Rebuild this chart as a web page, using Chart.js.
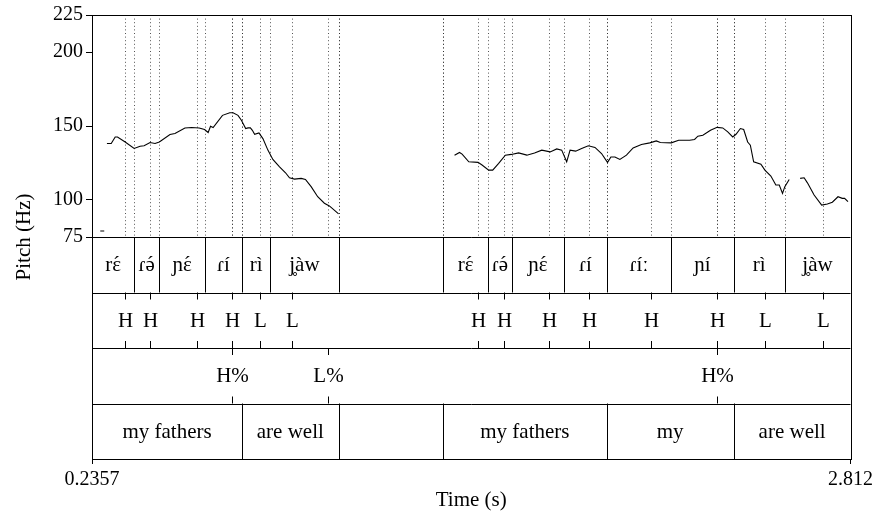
<!DOCTYPE html>
<html>
<head>
<meta charset="utf-8">
<title>Pitch track with tiers</title>
<script src="https://cdn.jsdelivr.net/npm/chart.js@4.4.1/dist/chart.umd.min.js"></script>
<style>
  html, body { margin: 0; padding: 0; background: #fff; }
  #pitchChart { display: block; }
</style>
</head>
<body>
<canvas id="pitchChart" width="877" height="516"></canvas>
<script>
// Time range of the excerpt (s)
const timeMin = 0.2357;
const timeMax = 2.812;
const timeTickLabels = ['0.2357', '2.812'];

// Pitch axis ticks (Hz)
const pitchTicks = [75, 100, 150, 200, 225];

// F0 track: null marks an unvoiced gap
const pitchTimes = [
    0.2638, 0.2773, 0.2800,
    0.2864, 0.3010, 0.3145, 0.3223, 0.3484, 0.3788, 0.3991, 0.4126, 0.4329, 0.4498,
    0.4644, 0.5006, 0.5175, 0.5513, 0.5740, 0.5997, 0.6180, 0.6302, 0.6383, 0.6471,
    0.6789, 0.7036, 0.7147, 0.7316, 0.7431, 0.7577, 0.7655, 0.7736, 0.7804, 0.7881,
    0.8027, 0.8162, 0.8331, 0.8500, 0.8727, 0.8930, 0.9065, 0.9235, 0.9461, 0.9607,
    0.9800, 1.0023, 1.0250, 1.0419, 1.0733, 1.2000,
    1.4671, 1.4840, 1.4928, 1.5155, 1.5469, 1.5605, 1.5831, 1.5967, 1.6170, 1.6396,
    1.6599, 1.6846, 1.7127, 1.7388, 1.7634, 1.7919, 1.8142, 1.8311, 1.8480, 1.8595,
    1.8785, 1.8988, 1.9214, 1.9441, 1.9664, 1.9867, 1.9982, 2.0118, 2.0287, 2.0510,
    2.0737, 2.1018, 2.1302, 2.1525, 2.1660, 2.2032, 2.2283, 2.2655, 2.2824, 2.2936,
    2.3105, 2.3365, 2.3589, 2.3781, 2.3951, 2.4120, 2.4231, 2.4380, 2.4492, 2.4627,
    2.4718, 2.4830, 2.5077, 2.5212, 2.5415, 2.5584, 2.5700, 2.5811, 2.5889, 2.6038,
    2.6200,
    2.6410, 2.6545, 2.6657, 2.6884, 2.7141, 2.7334, 2.7503, 2.7695, 2.7841, 2.7919,
    2.8034
];
const pitchHz = [
    79.1, 79.1, null,
    138.2, 138.2, 142.6, 142.6, 139.2, 134.8, 136.3, 136.6, 138.8, 138.2,
    139.2, 144.2, 144.9, 148.7, 149.0, 148.7, 147.6, 145.6, 149.8, 149.0,
    157.2, 159.0, 159.0, 157.2, 153.9, 148.3, 148.7, 148.7, 147.1, 144.4,
    145.3, 141.5, 133.7, 127.4, 122.4, 118.4, 115.0, 114.1, 114.6, 113.9,
    109.0, 102.2, 97.8, 96.0, 90.6, null,
    130.3, 132.1, 131.0, 125.8, 125.4, 123.6, 120.2, 120.2, 124.7, 130.3,
    130.8, 131.8, 130.3, 131.8, 133.7, 132.5, 134.5, 133.7, 125.8, 133.7,
    133.0, 134.8, 136.6, 135.5, 131.4, 125.4, 129.1, 129.1, 127.4, 130.3,
    135.2, 137.5, 138.6, 139.9, 138.8, 138.6, 140.4, 140.4, 140.9, 143.1,
    143.8, 147.1, 149.1, 148.7, 146.0, 142.6, 144.4, 148.3, 147.6, 139.2,
    137.0, 125.8, 124.2, 120.2, 116.2, 110.1, 110.1, 104.5, 109.0, 113.9,
    null,
    114.6, 115.0, 111.6, 103.4, 96.6, 97.3, 98.5, 102.2, 101.1, 101.1,
    98.9
];

// Syllable tier (interval boundaries and labels)
const syllableBounds = [
    0.2357, 0.3788, 0.4644, 0.6190, 0.7452, 0.8413, 1.0733,
    1.4285, 1.5808, 1.6610, 1.8402, 1.9834, 2.2032, 2.4154, 2.5879, 2.8120
];
const syllableLabels = [
    'rɛ́', 'ɾə́', 'ɲɛ́', 'ɾí', 'rì', 'j̥àw', '',
    'rɛ́', 'ɾə́', 'ɲɛ́', 'ɾí', 'ɾíː', 'ɲí', 'rì', 'j̥àw'
];

// Tone tier (points)
const toneTimes = [
    0.3484, 0.4319, 0.5909, 0.7127, 0.8061, 0.9143,
    1.5469, 1.6349, 1.7871, 1.9224, 2.1336, 2.3602, 2.5212, 2.7175
];
const toneLabels = [
    'H', 'H', 'H', 'H', 'L', 'L',
    'H', 'H', 'H', 'H', 'H', 'H', 'L', 'L'
];

// Boundary tone tier (points)
const boundaryToneTimes = [0.7127, 1.0375, 2.3602];
const boundaryToneLabels = ['H%', 'L%', 'H%'];

// Gloss tier (intervals)
const wordBounds = [0.2357, 0.7452, 1.0733, 1.4285, 1.9834, 2.4154, 2.8120];
const wordLabels = ['my fathers', 'are well', '', 'my fathers', 'my', 'are well'];

const serif = "'Liberation Serif', 'DejaVu Serif', serif";
const labelFont = '21px ' + serif;

// Tier bands live below the pitch range on the same y scale
const tierStep = 37.5;
const tiers = [
    { kind: 'interval', bounds: syllableBounds, labels: syllableLabels },
    { kind: 'point', times: toneTimes, labels: toneLabels },
    { kind: 'point', times: boundaryToneTimes, labels: boundaryToneLabels },
    { kind: 'interval', bounds: wordBounds, labels: wordLabels }
];

const pitchPoints = pitchTimes.map((t, i) => ({ x: t, y: pitchHz[i] }));

function crisp(v) {
    return Math.round(v) + 0.5;
}

// The serif font places a combining acute badly on ɛ and ə,
// so those get a spacing acute centred over the base letter.
function drawLabel(ctx, text, cx, cy) {
    const parts = [];
    for (const ch of text) {
        if (ch === '\u0301' && parts.length) {
            parts[parts.length - 1].acute = true;
        } else if (/[\u0300-\u036f]/.test(ch) && parts.length) {
            parts[parts.length - 1].ch += ch;
        } else {
            parts.push({ ch: ch, acute: false });
        }
    }
    const widths = parts.map(p => ctx.measureText(p.ch).width);
    const total = widths.reduce((a, b) => a + b, 0);
    let px = cx - total / 2;
    ctx.textAlign = 'left';
    parts.forEach((p, i) => {
        ctx.fillText(p.ch, px, cy);
        if (p.acute) {
            ctx.textAlign = 'center';
            ctx.fillText('\u00B4', px + widths[i] / 2, cy);
            ctx.textAlign = 'left';
        }
        px += widths[i];
    });
    ctx.textAlign = 'center';
}

// Dotted guides in the pitch panel at every tier boundary / point
const guidePlugin = {
    id: 'tierGuides',
    beforeDatasetsDraw(chart) {
        const { ctx, scales: { x, y } } = chart;
        const top = y.getPixelForValue(pitchTicks[pitchTicks.length - 1]);
        const bottom = y.getPixelForValue(pitchTicks[0]);
        const times = []
            .concat(syllableBounds.slice(1, -1))
            .concat(toneTimes)
            .concat(boundaryToneTimes)
            .concat(wordBounds.slice(1, -1));
        ctx.save();
        ctx.strokeStyle = 'rgba(40,40,40,0.8)';
        ctx.lineWidth = 1;
        ctx.setLineDash([1, 2.6]);
        times.forEach(t => {
            const px = crisp(x.getPixelForValue(t));
            ctx.beginPath();
            ctx.moveTo(px, top);
            ctx.lineTo(px, bottom);
            ctx.stroke();
        });
        ctx.restore();
    }
};

// Tier bands, labels and the outer frame
const tierPlugin = {
    id: 'tierBands',
    afterDraw(chart) {
        const { ctx, chartArea, scales: { x, y } } = chart;
        ctx.save();
        ctx.strokeStyle = '#000';
        ctx.fillStyle = '#000';
        ctx.lineWidth = 1;
        ctx.font = labelFont;
        ctx.textAlign = 'center';
        ctx.textBaseline = 'middle';

        tiers.forEach((tier, k) => {
            const yTop = y.getPixelForValue(pitchTicks[0] - tierStep * k);
            const yBot = y.getPixelForValue(pitchTicks[0] - tierStep * (k + 1));
            const yMid = (yTop + yBot) / 2 + 1;

            ctx.beginPath();
            ctx.moveTo(chartArea.left, crisp(yTop));
            ctx.lineTo(chartArea.right, crisp(yTop));
            ctx.stroke();

            if (tier.kind === 'interval') {
                tier.bounds.slice(1, -1).forEach(t => {
                    const px = crisp(x.getPixelForValue(t));
                    ctx.beginPath();
                    ctx.moveTo(px, yTop);
                    ctx.lineTo(px, yBot);
                    ctx.stroke();
                });
                tier.labels.forEach((lab, i) => {
                    if (!lab) return;
                    const cx = (x.getPixelForValue(tier.bounds[i]) + x.getPixelForValue(tier.bounds[i + 1])) / 2;
                    drawLabel(ctx, lab, cx, yMid);
                });
            } else {
                tier.times.forEach((t, i) => {
                    const px = crisp(x.getPixelForValue(t));
                    ctx.beginPath();
                    ctx.moveTo(px, yTop);
                    ctx.lineTo(px, yTop + 7);
                    ctx.moveTo(px, yBot);
                    ctx.lineTo(px, yBot - 7);
                    ctx.stroke();
                    ctx.fillText(tier.labels[i], px, yMid);
                });
            }
        });

        ctx.strokeRect(crisp(chartArea.left), crisp(chartArea.top),
            Math.round(chartArea.right - chartArea.left), Math.round(chartArea.bottom - chartArea.top));
        ctx.restore();
    }
};

const ctx = document.getElementById('pitchChart').getContext('2d');
new Chart(ctx, {
    type: 'line',
    data: {
        datasets: [{
            data: pitchPoints,
            borderColor: '#000',
            borderWidth: 1.1,
            pointRadius: 0,
            tension: 0,
            spanGaps: false,
            fill: false
        }]
    },
    plugins: [guidePlugin, tierPlugin],
    options: {
        responsive: false,
        animation: false,
        devicePixelRatio: 1,
        layout: { padding: { top: 14, right: 24, left: 0, bottom: 0 } },
        plugins: {
            legend: { display: false },
            tooltip: { enabled: false }
        },
        scales: {
            x: {
                type: 'linear',
                min: timeMin,
                max: timeMax,
                afterBuildTicks: scale => {
                    scale.ticks = [{ value: timeMin }, { value: timeMax }];
                },
                afterFit: scale => { scale.height = 57; },
                ticks: {
                    color: '#000',
                    font: { family: serif, size: 20 },
                    padding: 4,
                    maxRotation: 0,
                    autoSkip: false,
                    callback: (v, i) => timeTickLabels[i]
                },
                grid: {
                    drawOnChartArea: false,
                    drawTicks: true,
                    tickLength: 5,
                    color: '#000'
                },
                border: { display: true, color: '#000', width: 1 },
                title: {
                    display: true,
                    text: 'Time (s)',
                    color: '#000',
                    font: { family: serif, size: 21 },
                    padding: { top: 0, bottom: 3 }
                }
            },
            y: {
                type: 'linear',
                min: pitchTicks[0] - tierStep * tiers.length,
                max: pitchTicks[pitchTicks.length - 1],
                afterBuildTicks: scale => {
                    scale.ticks = pitchTicks.map(v => ({ value: v }));
                },
                afterFit: scale => { scale.width = 92; },
                ticks: {
                    color: '#000',
                    font: { family: serif, size: 20 },
                    padding: 3,
                    autoSkip: false
                },
                grid: {
                    drawOnChartArea: false,
                    drawTicks: true,
                    tickLength: 6,
                    color: '#000'
                },
                border: { display: true, color: '#000', width: 1 },
                title: {
                    display: true,
                    text: 'Pitch (Hz)',
                    color: '#000',
                    font: { family: serif, size: 21 },
                    padding: { top: 12, bottom: 0 }
                }
            }
        }
    }
});
</script>
</body>
</html>
